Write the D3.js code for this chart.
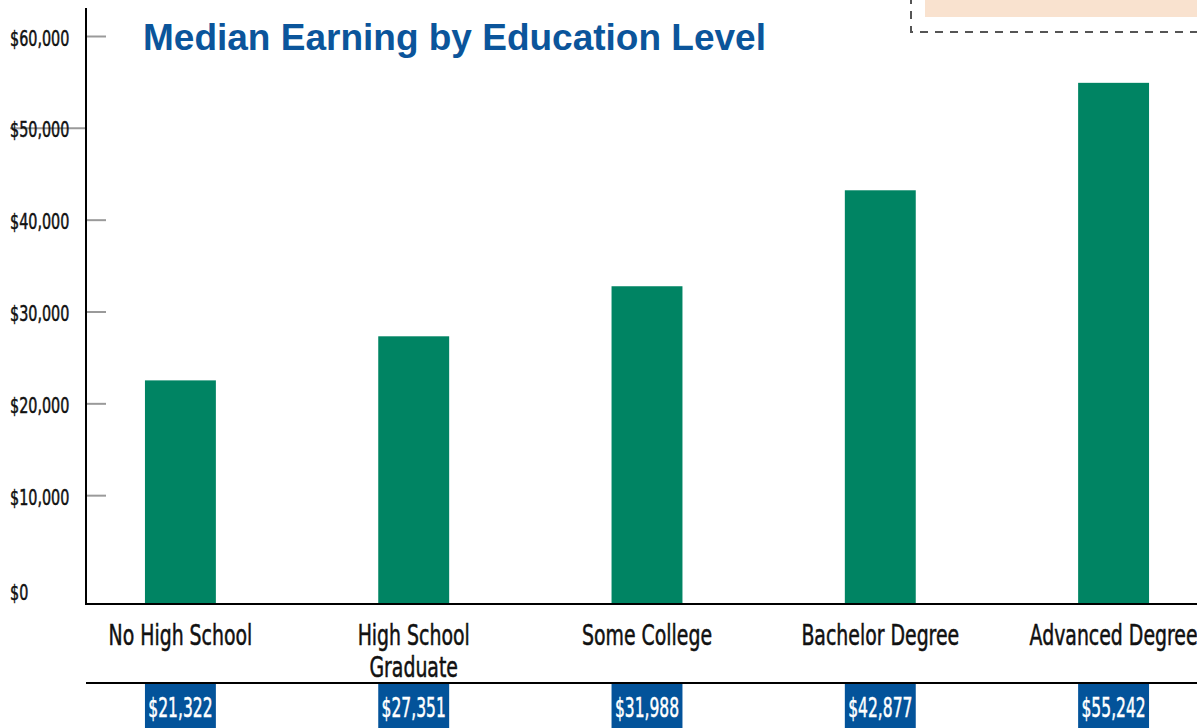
<html>
	<head>
		<meta charset="utf-8">
		<title>Median Earning by Education Level</title>
	</head>
	<style>
		body { margin: 0; background: #fff; }
		.narrow { font-family: "Liberation Sans Narrow", "Arial Narrow", "DejaVu Sans Condensed", sans-serif; font-stretch: condensed; stroke-width: 0.5px; }
	</style>
	<body>
		<script src="https://cdn.jsdelivr.net/npm/d3@7"></script>
		<script>
			var width = 1197;
			var height = 728;

			// data
			var categories = [["No High School"], ["High School", "Graduate"], ["Some College"], ["Bachelor Degree"], ["Advanced Degree"]];
			var barValues = [22500, 27300, 32750, 43200, 54900];	// bar heights
			var labelValues = [21322, 27351, 31988, 42877, 55242];	// numbers in the blue boxes
			var tickValues = [0, 10000, 20000, 30000, 40000, 50000, 60000];

			var green = "#008463";
			var blue = "#03539a";

			var svg = d3.select("body")
				.append("svg")
				.attr("width", width)
				.attr("height", height);

			var axisX = 86;		// y axis position
			var baseY = 604;	// bottom line
			var rowY = 683;		// line above the value boxes

			var x = d3.scaleBand()
				.domain(d3.range(categories.length))
				.range([64, 1230])
				.paddingInner(0.696)
				.paddingOuter(0.347);

			var y = d3.scaleLinear()
				.domain([0, 60000])
				.range([587, 36]);

			// peach box top right, partly off the page
			svg.append("rect")
				.attr("x", 925).attr("y", -20)
				.attr("width", 300).attr("height", 37)
				.attr("fill", "#f9e2cf");
			svg.append("rect")
				.attr("x", 911).attr("y", -20)
				.attr("width", 320).attr("height", 52)
				.attr("fill", "none")
				.attr("stroke", "#555")
				.attr("stroke-width", 2)
				.attr("stroke-dasharray", "8,7");

			// bars
			svg.selectAll("rect.bar")
				.data(barValues)
				.enter()
				.append("rect")
				.attr("class", "bar")
				.attr("x", function(d, i) { return x(i); })
				.attr("y", function(d) { return y(d); })
				.attr("width", x.bandwidth())
				.attr("height", function(d) { return baseY - y(d); })
				.attr("fill", green);

			// y axis, ticks go to the right, labels pulled to the left edge
			var yAxis = d3.axisRight(y)
				.tickValues(tickValues)
				.tickSize(20)
				.tickFormat(function(d) { return "$" + d3.format(",")(d); });

			var gy = svg.append("g")
				.attr("transform", "translate(" + axisX + ",0)")
				.call(yAxis);
			gy.select(".domain").remove();
			gy.selectAll(".tick line")
				.attr("stroke", "#9a9a9a")
				.attr("stroke-width", 2)
				.attr("x1", function(d) { return d == 50000 ? -76 : 0; })	// this one runs through its label
				.attr("x2", function(d) { return d == 50000 ? 0 : 20; })
				.attr("display", function(d) { return d == 0 ? "none" : null; });
			gy.selectAll(".tick text")
				.attr("class", "narrow")
				.attr("x", null)
				.attr("dy", null)
				.attr("text-anchor", "start")
				.attr("fill", "#111")
				.attr("stroke", "#111")
				.attr("font-size", 21)
				.attr("transform", function(d) { return "translate(-76," + (d == 0 ? 12 : 9) + ") scale(0.76,1)"; });

			// axis lines
			svg.append("line")
				.attr("x1", axisX).attr("x2", axisX)
				.attr("y1", 8).attr("y2", baseY + 1)
				.attr("stroke", "#000").attr("stroke-width", 2);
			svg.append("line")
				.attr("x1", axisX - 1).attr("x2", width)
				.attr("y1", baseY).attr("y2", baseY)
				.attr("stroke", "#000").attr("stroke-width", 2);
			svg.append("line")
				.attr("x1", axisX).attr("x2", width)
				.attr("y1", rowY).attr("y2", rowY)
				.attr("stroke", "#000").attr("stroke-width", 2);

			// category labels
			var cat = svg.selectAll("g.cat")
				.data(categories)
				.enter()
				.append("g")
				.attr("class", "cat")
				.attr("transform", function(d, i) {
					return "translate(" + (x(i) + x.bandwidth() / 2) + ",645) scale(0.75,1)";
				});
			cat.selectAll("text")
				.data(function(d) { return d; })
				.enter()
				.append("text")
				.attr("class", "narrow")
				.attr("y", function(d, i) { return i * 32; })
				.attr("text-anchor", "middle")
				.attr("font-size", 28)
				.attr("fill", "#111")
				.attr("stroke", "#111")
				.text(function(d) { return d; });

			// value boxes under the line
			var box = svg.selectAll("g.val")
				.data(labelValues)
				.enter()
				.append("g")
				.attr("class", "val");
			box.append("rect")
				.attr("x", function(d, i) { return x(i); })
				.attr("y", rowY + 1)
				.attr("width", x.bandwidth())
				.attr("height", 60)
				.attr("fill", blue);
			box.append("text")
				.attr("class", "narrow")
				.attr("transform", function(d, i) {
					return "translate(" + (x(i) + x.bandwidth() / 2) + ",717) scale(0.64,1)";
				})
				.attr("text-anchor", "middle")
				.attr("font-size", 27)
				.attr("fill", "#fff")
				.attr("stroke", "#fff")
				.text(function(d) { return "$" + d3.format(",")(d); });

			// title
			svg.append("text")
				.attr("x", 143)
				.attr("y", 50)
				.attr("font-family", "'Liberation Sans', Arial, sans-serif")
				.attr("font-weight", "bold")
				.attr("font-size", 37)
				.attr("fill", "#0b559b")
				.text("Median Earning by Education Level");
		</script>
	</body>
</html>
